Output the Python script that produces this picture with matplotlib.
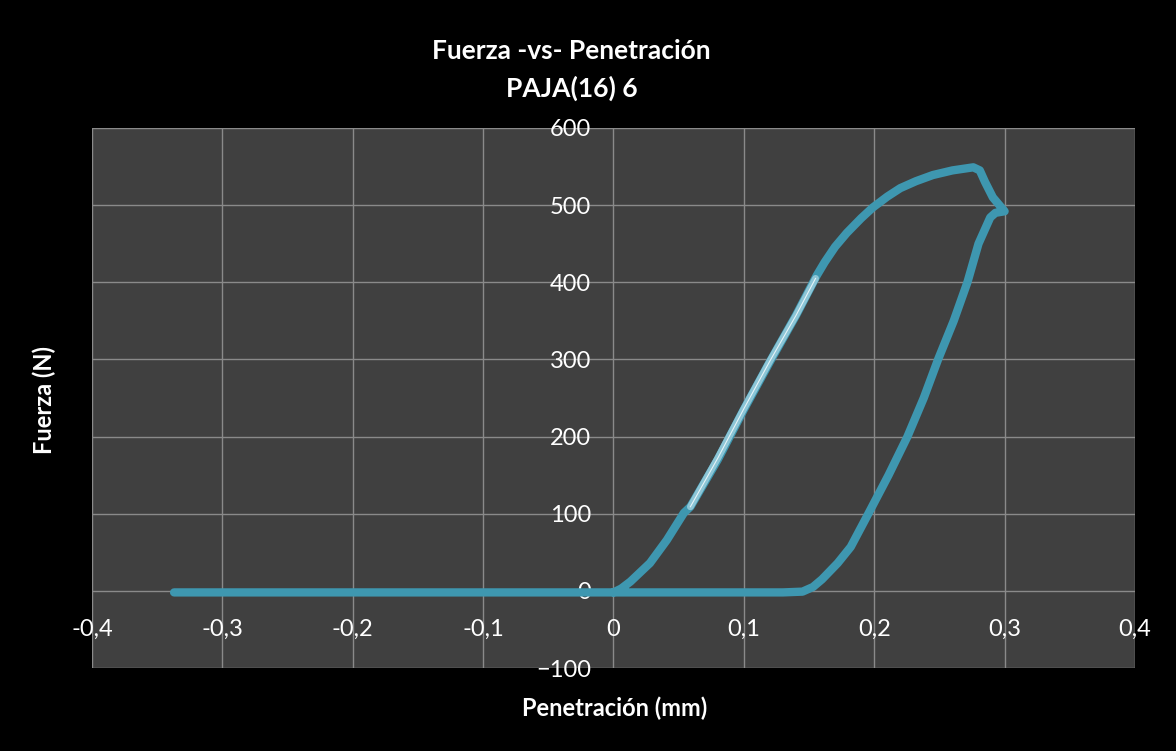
import matplotlib.pyplot as plt

# curva principal (penetracion mm, fuerza N)
pen = [-0.337, -0.2, -0.1, 0.0, 0.006, 0.013, 0.028, 0.041, 0.054, 0.059, 0.08, 0.10,
       0.12, 0.14, 0.156, 0.162, 0.170, 0.179, 0.19, 0.199, 0.21, 0.22, 0.232, 0.245, 0.26,
       0.276, 0.281, 0.285, 0.291, 0.299, 0.300, 0.293, 0.289, 0.280, 0.2715, 0.261,
       0.249, 0.238, 0.2255, 0.211, 0.1955, 0.182, 0.172, 0.16, 0.153, 0.145, 0.13, 0.0]
fuerza = [-2, -2, -2, -2, 3, 12, 36, 66, 101, 109, 170, 235,
          297, 357, 409, 426, 446, 464, 483, 497, 511, 522, 531, 539, 545,
          549, 545, 530, 510, 494, 492, 490, 484, 450, 400, 350,
          300, 250, 200, 150, 100, 57, 36, 15, 5, -1, -2, -2]

# tramo lineal resaltado
pen_lin = [0.059, 0.08, 0.10, 0.12, 0.14, 0.155]
fuerza_lin = [109, 172, 236, 298, 357, 405]

xticks = [-0.4, -0.3, -0.2, -0.1, 0, 0.1, 0.2, 0.3, 0.4]
xlabels = ['-0,4', '-0,3', '-0,2', '-0,1', '0', '0,1', '0,2', '0,3', '0,4']
yticks = [-100, 0, 100, 200, 300, 400, 500, 600]

plt.rcParams['font.family'] = ['Lato', 'DejaVu Sans']

fig = plt.figure(figsize=(11.76, 7.51), dpi=100, facecolor='black')
ax = fig.add_axes([0.0782, 0.1105, 0.8869, 0.7191])
ax.set_facecolor('#404040')

ax.plot(pen, fuerza, color='#3E97B0', lw=6, solid_capstyle='round', solid_joinstyle='round', zorder=3)
ax.plot(pen_lin, fuerza_lin, color='#8CC5D6', lw=5, solid_capstyle='round', zorder=4)
ax.plot(pen_lin, fuerza_lin, color='#E8F4F8', lw=0.8, zorder=5)

ax.set_xlim(-0.4, 0.4)
ax.set_ylim(-100, 600)
ax.set_xticks(xticks)
ax.set_xticklabels(xlabels)
ax.set_yticks(yticks)
ax.grid(True, color='#8A8A8A', lw=1)
ax.set_axisbelow(True)
for s in ax.spines.values():
    s.set_visible(False)
ax.spines['left'].set_position(('data', 0))
ax.spines['bottom'].set_position(('data', 0))
ax.tick_params(axis='both', length=0, colors='white', labelsize=17)
ax.tick_params(axis='x', pad=20)
ax.tick_params(axis='y', pad=16)

fig.text(0.486, 0.932, 'Fuerza -vs- Penetración', color='white', fontsize=19,
         fontweight='bold', ha='center', va='center')
fig.text(0.486, 0.882, 'PAJA(16) 6', color='white', fontsize=19,
         fontweight='bold', ha='center', va='center')
fig.text(0.523, 0.057, 'Penetración (mm)', color='white', fontsize=17,
         fontweight='bold', ha='center', va='center')
fig.text(0.038, 0.467, 'Fuerza (N)', color='white', fontsize=17,
         fontweight='bold', ha='center', va='center', rotation=90)

plt.savefig('out.png', dpi=100, facecolor='black')
